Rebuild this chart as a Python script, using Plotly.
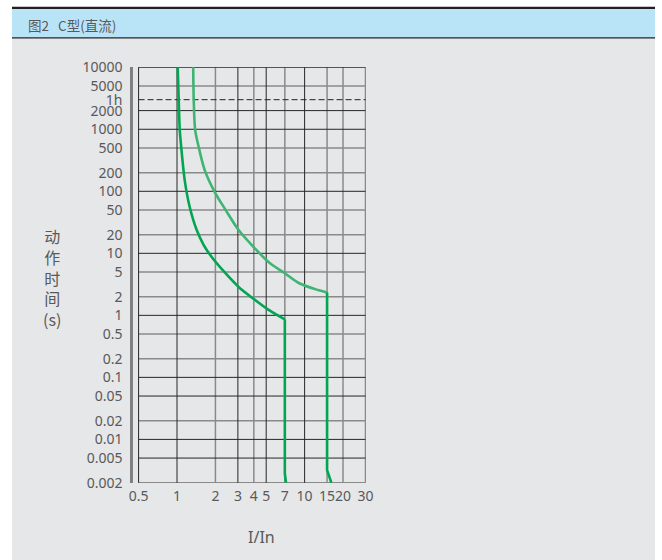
import math
import plotly.graph_objects as go

# ---------------- data ----------------
x_tick_vals = [0.5, 1, 2, 3, 4, 5, 7, 10, 15, 20, 30]
x_tick_text = ["0.5", "1", "2", "3", "4", "5", "7", "10", "15", "20", "30"]
x_grid_dark = [0.5, 1, 3, 5, 10]
x_grid_light = [2, 4, 7, 15, 20, 30]

y_tick_vals = [10000, 5000, 3000, 2000, 1000, 500, 200, 100, 50, 20, 10, 5, 2, 1,
               0.5, 0.2, 0.1, 0.05, 0.02, 0.01, 0.005, 0.002]
y_tick_text = ["10000", "5000", "1h", "2000", "1000", "500", "200", "100", "50", "20",
               "10", "5", "2", "1", "0.5", "0.2", "0.1", "0.05", "0.02", "0.01",
               "0.005", "0.002"]
y_grid_dark = [10000, 2000, 1000, 100, 10, 1, 0.1, 0.05, 0.01, 0.005]
y_grid_light = [5000, 500, 200, 50, 20, 5, 2, 0.5, 0.2, 0.02, 0.002]
one_hour = 3000

curve1_x = [1.013, 1.031, 1.050, 1.079, 1.149, 1.258, 1.427, 1.619, 1.871, 2.388,
            3.040, 3.901, 5.225, 7.0]
curve1_t = [10000, 3052, 1004, 515, 151.5, 55.7, 23.7, 13.6, 8.72, 4.82,
            2.87, 1.906, 1.222, 0.859]
curve1v_x = [7.0, 7.0, 7.15]
curve1v_t = [0.859, 0.0028, 0.002]

curve2_x = [1.340, 1.352, 1.389, 1.480, 1.649, 1.975, 2.408, 3.040, 4.051, 5.325,
            6.96, 8.99, 12.72, 15.0]
curve2_t = [10000, 3052, 967, 515, 219.5, 97.1, 49.8, 23.7, 12.17, 6.98,
            4.82, 3.32, 2.56, 2.34]
curve2v_x = [15.0, 15.0, 16.2]
curve2v_t = [2.34, 0.0032, 0.002]

header_text = "图2&nbsp;&nbsp;&nbsp;C型(直流)"
y_title = "动<br>作<br>时<br>间<br>(s)"
x_title = "I/In"

# ---------------- layout helpers ----------------
W, H = 662, 560
L, R, T, B = 133, 366, 67, 483


def px(x):
    return (x - L) / (R - L)


def py(y):
    return (B - y) / (B - T)


X_MIN, X_MAX = 0.452, 30
Y_MIN, Y_MAX = 0.002, 10000

DARK = "#262626"
LIGHT = "#8a8a8a"
TXT = "#595959"


def lines_v(vals):
    xs, ys = [], []
    for v in vals:
        xs += [v, v, None]
        ys += [Y_MIN, Y_MAX, None]
    return xs, ys


def lines_h(vals):
    xs, ys = [], []
    for v in vals:
        xs += [0.5, X_MAX, None]
        ys += [v, v, None]
    return xs, ys


fig = go.Figure()

for vals, fn, col, wd in [
    (x_grid_light, lines_v, LIGHT, 1.5),
    (y_grid_light, lines_h, LIGHT, 1.5),
    (x_grid_dark, lines_v, DARK, 1.0),
    (y_grid_dark, lines_h, DARK, 1.0),
]:
    gx, gy = fn(vals)
    fig.add_trace(go.Scatter(x=gx, y=gy, mode="lines", line=dict(color=col, width=wd),
                             hoverinfo="skip", showlegend=False))

fig.add_trace(go.Scatter(x=[0.5, X_MAX], y=[one_hour, one_hour], mode="lines",
                         line=dict(color="#222222", width=1, dash="6px,3px"),
                         hoverinfo="skip", showlegend=False))

fig.add_trace(go.Scatter(x=curve2_x, y=curve2_t, mode="lines",
                         line=dict(color="#3fb473", width=2.6, shape="spline", smoothing=0.9),
                         showlegend=False))
fig.add_trace(go.Scatter(x=curve2v_x, y=curve2v_t, mode="lines",
                         line=dict(color="#00a651", width=2.6), showlegend=False))
fig.add_trace(go.Scatter(x=curve1_x, y=curve1_t, mode="lines",
                         line=dict(color="#00a651", width=2.6, shape="spline", smoothing=0.9),
                         showlegend=False))
fig.add_trace(go.Scatter(x=curve1v_x, y=curve1v_t, mode="lines",
                         line=dict(color="#00a651", width=2.6), showlegend=False))

shapes = [
    dict(type="rect", xref="paper", yref="paper", x0=px(12), x1=px(655),
         y0=py(560), y1=py(38), fillcolor="#e6e7e8", line=dict(width=0), layer="below"),
    dict(type="rect", xref="paper", yref="paper", x0=px(12), x1=px(655),
         y0=py(37.6), y1=py(8.6), fillcolor="#b9e4f7", line=dict(width=0), layer="below"),
    dict(type="line", xref="paper", yref="paper", x0=px(12), x1=px(655),
         y0=py(7.8), y1=py(7.8), line=dict(color="#231f20", width=2.2), layer="below"),
    dict(type="line", xref="paper", yref="paper", x0=px(12), x1=px(655),
         y0=py(37.8), y1=py(37.8), line=dict(color="#231f20", width=1.3), layer="below"),
]

annotations = [
    dict(text=header_text, xref="paper", yref="paper", x=px(26), y=py(24.5),
         xanchor="left", yanchor="middle", showarrow=False,
         font=dict(family="Noto Sans CJK SC", size=13.5, color=TXT)),
    dict(text=y_title, xref="paper", yref="paper", x=px(52), y=py(277),
         xanchor="center", yanchor="middle", showarrow=False, align="center",
         font=dict(family="Noto Sans CJK SC", size=16, color=TXT)),
    dict(text=x_title, xref="paper", yref="paper", x=px(261), y=py(537),
         xanchor="center", yanchor="middle", showarrow=False,
         font=dict(family="Noto Sans", size=16, color=TXT)),
]

fig.update_layout(
    width=W, height=H, autosize=False,
    margin=dict(l=L, r=W - R, t=T, b=H - B, pad=0),
    paper_bgcolor="white",
    plot_bgcolor="rgba(0,0,0,0)",
    shapes=shapes,
    annotations=annotations,
    showlegend=False,
)

fig.update_xaxes(
    type="log",
    range=[math.log10(X_MIN), math.log10(X_MAX) + 0.004],
    tickvals=x_tick_vals, ticktext=x_tick_text, tickangle=0,
    showgrid=False, zeroline=False, showline=False,
    ticks="", ticklabelstandoff=3,
    tickfont=dict(family="Noto Sans", size=14, color=TXT),
)
fig.update_yaxes(
    type="log",
    range=[math.log10(Y_MIN) - 0.004, math.log10(Y_MAX) + 0.004],
    tickvals=y_tick_vals, ticktext=y_tick_text,
    showgrid=False, zeroline=False,
    showline=True, linecolor="#808080", linewidth=2.5,
    ticks="", ticklabelstandoff=5,
    tickfont=dict(family="Noto Sans", size=14, color=TXT),
)

fig.write_html("out.html", config={"displayModeBar": False},
               post_script="document.body.style.margin='0';")
